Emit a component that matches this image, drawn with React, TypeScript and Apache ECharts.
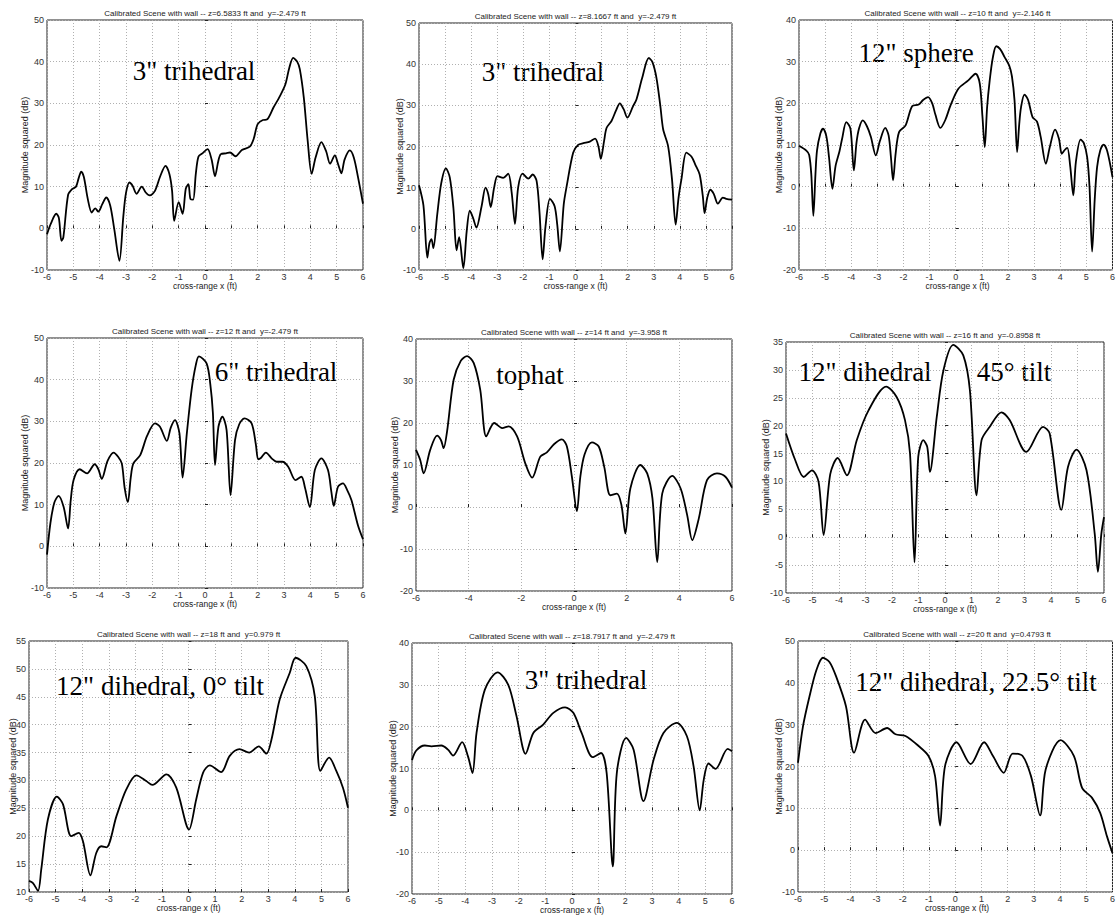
import React, { useEffect, useRef } from "react";
import * as echarts from "echarts";

// ---------- Data ----------
const p1: number[][] = [
  [-6, -1.4], [-5.85, 1.2], [-5.65, 3.5], [-5.55, 2.5], [-5.45, -3], [-5.38, -2.2], [-5.2, 8], [-5.05, 9.4],
  [-4.9, 10], [-4.8, 12], [-4.7, 13.6], [-4.6, 12.3], [-4.45, 7], [-4.3, 3.8], [-4.17, 4.8], [-4.05, 4],
  [-3.9, 5.8], [-3.75, 7.4], [-3.6, 5.5], [-3.45, 0], [-3.25, -7.8], [-3.1, 3], [-3.0, 8.5], [-2.87, 11],
  [-2.75, 10.2], [-2.6, 8.3], [-2.4, 10], [-2.25, 8.6], [-2.1, 7.9], [-1.9, 9], [-1.7, 12.5], [-1.5, 15],
  [-1.35, 13], [-1.25, 9], [-1.17, 1.8], [-1.0, 6.3], [-0.85, 3.5], [-0.73, 9.5], [-0.63, 10.6], [-0.55, 7],
  [-0.45, 6.9], [-0.35, 13], [-0.25, 17.2], [-0.1, 18], [0.1, 19], [0.25, 16.5], [0.38, 12.5], [0.5, 16],
  [0.6, 17.8], [0.8, 18], [0.95, 18.2], [1.16, 17.3], [1.4, 18.8], [1.7, 19.6], [1.85, 21.5], [2.0, 25],
  [2.2, 26], [2.35, 26.1], [2.6, 29], [2.85, 31.8], [3.05, 34.5], [3.2, 38.5], [3.35, 40.9], [3.5, 40],
  [3.6, 38.2], [3.75, 31.5], [3.9, 21], [4.05, 13.1], [4.2, 17], [4.42, 20.7], [4.6, 18.5], [4.75, 15.5],
  [4.93, 17.5], [5.05, 15.5], [5.18, 13.2], [5.3, 16.5], [5.5, 18.7], [5.65, 17], [5.81, 12.3], [6, 5.9]
];
const p2: number[][] = [
  [-6, 10.6], [-5.83, 5.7], [-5.68, -7], [-5.6, -3.5], [-5.52, -2.5], [-5.45, -4.7], [-5.3, 3.5],
  [-5.15, 11], [-4.97, 14.7], [-4.82, 12.5], [-4.68, 5], [-4.56, -5.2], [-4.46, -2], [-4.3, -9.6],
  [-4.17, -0.5], [-4.05, 4.4], [-3.92, 2.5], [-3.8, 0.3], [-3.6, 5.5], [-3.45, 10], [-3.35, 8.5],
  [-3.25, 5.3], [-3.12, 10], [-2.99, 12.8], [-2.77, 12.4], [-2.58, 13.4], [-2.45, 9], [-2.32, 1.2],
  [-2.2, 10], [-2.03, 13.4], [-1.81, 12.2], [-1.64, 13.2], [-1.49, 11.6], [-1.38, 4], [-1.26, -7.4],
  [-1.15, 0.6], [-0.98, 7.3], [-0.8, 5.5], [-0.7, 1], [-0.6, -5.5], [-0.45, 6], [-0.34, 10.3], [-0.09, 18.5],
  [0.1, 20.4], [0.3, 20.8], [0.55, 21.2], [0.75, 21.9], [0.88, 20], [0.97, 17], [1.1, 21.5], [1.19, 24.5],
  [1.38, 26.2], [1.55, 28.7], [1.7, 30.5], [1.85, 29], [1.99, 27], [2.2, 29.7], [2.34, 31.5], [2.55, 36.5],
  [2.81, 41.5], [2.95, 40.5], [3.1, 36.8], [3.25, 30], [3.36, 24.2], [3.55, 20.1], [3.7, 12], [3.84, 1],
  [3.95, 7.5], [4.06, 12], [4.25, 18.5], [4.45, 17.5], [4.6, 15.5], [4.76, 13.2], [4.88, 8], [4.95, 3.8],
  [5.05, 7.5], [5.17, 9.5], [5.3, 8.5], [5.46, 6.1], [5.65, 7.6], [5.78, 7.3], [6, 7.1]
];
const p3: number[][] = [
  [-6, 9.8], [-5.71, 8.6], [-5.61, 7.6], [-5.53, 3], [-5.45, -7], [-5.37, 3], [-5.31, 8.7], [-5.18, 12.8],
  [-5.08, 13.9], [-4.95, 12], [-4.85, 7], [-4.72, -0.5], [-4.6, 5], [-4.45, 8.5], [-4.35, 11.5],
  [-4.19, 15.5], [-4.03, 13.9], [-3.9, 3.9], [-3.8, 10.5], [-3.7, 14], [-3.56, 15.9], [-3.4, 14.5],
  [-3.25, 12], [-3.06, 7.5], [-2.9, 11], [-2.7, 14.1], [-2.57, 12.3], [-2.48, 7], [-2.4, 1.5], [-2.3, 8],
  [-2.17, 13.1], [-1.92, 14.7], [-1.67, 19.3], [-1.42, 19.7], [-1.25, 20.8], [-1.06, 21.5], [-0.9, 20],
  [-0.78, 17.3], [-0.59, 14.1], [-0.4, 16], [-0.2, 19.5], [0.1, 23.5], [0.48, 25.5], [0.76, 27.1],
  [0.92, 24.7], [1.02, 17], [1.11, 9.5], [1.2, 19], [1.3, 25.5], [1.42, 31], [1.55, 33.7], [1.7, 33],
  [1.87, 31.1], [2.05, 29], [2.15, 26.5], [2.25, 20.7], [2.35, 8.3], [2.43, 15], [2.5, 19.1], [2.63, 22.1],
  [2.77, 20.8], [2.94, 16.7], [3.11, 15.6], [3.25, 12], [3.45, 5.5], [3.6, 9.5], [3.8, 13.7], [3.95, 11.5],
  [4.06, 7.9], [4.17, 8.8], [4.27, 9.3], [4.38, 5], [4.5, -2.1], [4.6, 6], [4.78, 11.3], [4.9, 10.5],
  [5.03, 7.1], [5.12, 0], [5.22, -15.6], [5.32, -3], [5.41, 4.7], [5.53, 8.7], [5.66, 10.1], [5.8, 8.5],
  [6, 2.3]
];
const p4: number[][] = [
  [-6, -2], [-5.87, 5.6], [-5.72, 10.5], [-5.56, 12.1], [-5.37, 9.5], [-5.2, 4.3], [-5.1, 11], [-4.99, 15.9],
  [-4.76, 18.5], [-4.48, 17.5], [-4.19, 19.7], [-4.05, 18.5], [-3.92, 16.2], [-3.7, 20.5], [-3.47, 22.5],
  [-3.3, 21.5], [-3.16, 19.9], [-3.05, 14], [-2.93, 10.6], [-2.82, 16.5], [-2.72, 19.9], [-2.46, 21.9],
  [-2.2, 26.5], [-1.9, 29.5], [-1.71, 28.7], [-1.45, 25.3], [-1.3, 28.5], [-1.14, 30.3], [-0.97, 27.1],
  [-0.85, 16.5], [-0.69, 27.1], [-0.51, 37.5], [-0.35, 43.5], [-0.23, 45.6], [0.06, 43.9], [0.2, 39],
  [0.3, 32], [0.38, 19.5], [0.51, 28.7], [0.66, 31.1], [0.82, 27.9], [0.97, 12.3], [1.14, 25.5], [1.3, 29.3],
  [1.5, 30.7], [1.77, 29.5], [1.93, 24.5], [2.02, 20.9], [2.12, 21.2], [2.31, 22.5], [2.55, 21], [2.72, 20.3],
  [2.94, 20.3], [3.16, 19.1], [3.44, 15.9], [3.66, 16.7], [3.8, 14], [3.98, 9.4], [4.17, 18.3], [4.42, 21.1],
  [4.67, 18.3], [4.8, 13], [4.89, 9.7], [5.05, 14.3], [5.24, 15.1], [5.4, 13.5], [5.56, 11.1], [5.81, 5],
  [6, 1.7]
];
const p5: number[][] = [
  [-6, 13.6], [-5.84, 11.2], [-5.71, 8], [-5.46, 13.6], [-5.2, 17], [-5.05, 15.9], [-4.95, 14], [-4.82, 18],
  [-4.57, 30.3], [-4.3, 34.8], [-4.06, 35.9], [-3.81, 34.3], [-3.56, 27.9], [-3.33, 16.8], [-3.03, 20],
  [-2.73, 18.8], [-2.48, 19.2], [-2.16, 16.8], [-1.85, 10.4], [-1.59, 7], [-1.28, 12], [-1.03, 13],
  [-0.75, 15], [-0.46, 16.1], [-0.27, 14.4], [-0.08, 7.2], [0.11, -1], [0.24, 7.2], [0.4, 12.5],
  [0.68, 15.4], [0.94, 14.4], [1.15, 9.5], [1.38, 2.8], [1.63, 3.2], [1.8, 0.5], [1.95, -6.3], [2.14, 4.4],
  [2.52, 10], [2.78, 8], [2.98, 2], [3.16, -13.1], [3.35, 3.2], [3.73, 7.4], [4.05, 4.4], [4.3, -2],
  [4.49, -7.9], [4.74, -2.7], [5.05, 6.4], [5.43, 8], [5.75, 7.2], [6, 4.6]
];
const p6: number[][] = [
  [-6, 18.6], [-5.65, 13.8], [-5.33, 10.8], [-5.02, 12], [-4.77, 9.9], [-4.58, 0.4], [-4.33, 11.3],
  [-4.05, 14.2], [-3.7, 11.1], [-3.33, 17.4], [-2.89, 22.7], [-2.22, 27], [-1.82, 25.1], [-1.51, 21],
  [-1.32, 15], [-1.15, -4.5], [-1.01, 14.4], [-0.82, 17.4], [-0.67, 16.2], [-0.57, 11.7], [-0.31, 21.6],
  [-0.06, 29.9], [0.31, 34.5], [0.69, 32.6], [0.94, 26.3], [1.19, 7.5], [1.38, 17.4], [1.69, 19.8],
  [2.13, 22.4], [2.44, 21], [3.07, 15.3], [3.7, 19.8], [3.95, 18.6], [4.39, 4.9], [4.64, 12.6],
  [4.96, 15.7], [5.34, 12], [5.65, 0.6], [5.77, -6.2], [5.9, 0.6], [6, 3.6]
];
const p7: number[][] = [
  [-6, 12], [-5.85, 11.6], [-5.66, 10.2], [-5.54, 14], [-5.29, 23], [-4.95, 27.1], [-4.72, 25.7],
  [-4.41, 20], [-4.13, 20.6], [-3.97, 19.1], [-3.69, 13], [-3.47, 17], [-3.28, 18.2], [-3.09, 18],
  [-2.71, 23.6], [-2.34, 28.4], [-1.96, 30.9], [-1.59, 29.9], [-1.36, 29.2], [-0.83, 31.1], [-0.46, 28.7],
  [0.02, 21.2], [0.29, 26.6], [0.55, 31.4], [0.8, 32.7], [1.23, 31.5], [1.55, 34.4], [1.92, 35.6],
  [2.28, 35], [2.64, 36.1], [2.93, 34.8], [3.12, 37.3], [3.43, 44.5], [3.81, 49.3], [4.03, 52],
  [4.43, 50.5], [4.75, 45.1], [4.96, 31.7], [5.29, 34.1], [5.56, 31.7], [5.81, 28.7], [6, 25.1]
];
const p8: number[][] = [
  [-6, 12], [-5.84, 14.3], [-5.52, 15.5], [-5.27, 15.3], [-4.9, 15.5], [-4.65, 14.5], [-4.46, 13.1],
  [-4.12, 16.3], [-3.9, 12.9], [-3.73, 8.9], [-3.58, 18.5], [-3.27, 28.8], [-2.79, 33], [-2.39, 30],
  [-2.08, 22.5], [-1.74, 13.5], [-1.45, 18.5], [-1.08, 20.5], [-0.7, 23.3], [-0.26, 24.6], [0.05, 23.3],
  [0.36, 18.5], [0.78, 12.7], [1.09, 13.7], [1.3, 8.9], [1.53, -13.4], [1.68, 8.9], [2.03, 17.3],
  [2.31, 14.5], [2.68, 2.2], [3.06, 12.1], [3.43, 18.5], [3.93, 20.9], [4.31, 17.7], [4.56, 10.5],
  [4.79, 0], [4.94, 7.3], [5.12, 11.2], [5.38, 9.9], [5.84, 14.7], [6, 14.1]
];
const p9: number[][] = [
  [-6, 20.9], [-5.81, 29.6], [-5.56, 36.8], [-5.3, 43], [-5.05, 46], [-4.8, 45], [-4.55, 41.6],
  [-4.17, 34.4], [-3.86, 23.3], [-3.44, 31.2], [-3.04, 28], [-2.6, 29.2], [-2.28, 27.7], [-1.9, 27.3],
  [-1.4, 24.9], [-1.02, 22.5], [-0.77, 17.7], [-0.58, 5.9], [-0.39, 20.1], [0.05, 25.8], [0.59, 20.6],
  [1.1, 25.8], [1.44, 22.5], [1.85, 18.5], [2.19, 23.1], [2.57, 22.5], [2.89, 17.7], [3.24, 8.3],
  [3.45, 19.3], [4.02, 26.3], [4.53, 22.5], [4.84, 14.9], [5.22, 12.5], [5.53, 8.9], [5.79, 3.3], [6, -0.7]
];

const seriesData = [p1, p2, p3, p4, p5, p6, p7, p8, p9];
const titles = [
  "Calibrated Scene with wall -- z=6.5833 ft and  y=-2.479 ft",
  "Calibrated Scene with wall -- z=8.1667 ft and  y=-2.479 ft",
  "Calibrated Scene with wall -- z=10 ft and  y=-2.146 ft",
  "Calibrated Scene with wall -- z=12 ft and  y=-2.479 ft",
  "Calibrated Scene with wall -- z=14 ft and  y=-3.958 ft",
  "Calibrated Scene with wall -- z=16 ft and  y=-0.8958 ft",
  "Calibrated Scene with wall -- z=18 ft and  y=0.979 ft",
  "Calibrated Scene with wall -- z=18.7917 ft and  y=-2.479 ft",
  "Calibrated Scene with wall -- z=20 ft and  y=0.4793 ft",
];
const annotations = [
  ["3\" trihedral"], ["3\" trihedral"], ["12\" sphere"],
  ["6\" trihedral"], ["tophat"], ["12\" dihedral", "45° tilt"],
  ["12\" dihedral, 0° tilt"], ["3\" trihedral"], ["12\" dihedral, 22.5° tilt"],
];
const yMins = [-10, -10, -20, -10, -20, -10, 10, -20, -10];
const yMaxs = [50, 50, 40, 50, 40, 35, 55, 40, 50];
const yIntervals = [10, 10, 10, 10, 10, 5, 5, 10, 10];
const xIntervals = [1, 1, 1, 1, 2, 1, 1, 1, 1];
const xAxisName = "cross-range x (ft)";
const yAxisName = "Magnitude squared (dB)";

// ---------- Layout ----------
const grids = [
  { left: 47, top: 20, width: 316, height: 250 },
  { left: 419, top: 23, width: 313, height: 247 },
  { left: 799, top: 20, width: 317, height: 250 },
  { left: 47, top: 338, width: 316, height: 250 },
  { left: 416, top: 339, width: 316, height: 252 },
  { left: 786, top: 342, width: 318, height: 251 },
  { left: 29, top: 641, width: 319, height: 251 },
  { left: 412, top: 643, width: 320, height: 251 },
  { left: 798, top: 641, width: 318, height: 251 },
];
const yNameX = [25, 400, 779, 25, 395, 766, 13, 393, 779];
const annotPos = [
  [[194, 71]], [[543, 72]], [[916, 53]],
  [[276, 372]], [[530, 375]], [[865, 372], [1014, 372]],
  [[160, 686]], [[586, 680]], [[976, 682]],
];

export default function App() {
  const ref = useRef<HTMLDivElement>(null);
  useEffect(() => {
    if (!ref.current) return;
    const chart = echarts.init(ref.current, undefined, { renderer: "svg" });
    const sans = "Liberation Sans";
    const graphic: any[] = [];
    grids.forEach((g, i) => {
      graphic.push({
        type: "text", x: g.left + g.width / 2, y: g.top - 7,
        style: { text: titles[i], fontSize: 8, fontFamily: sans, fill: "#222", textAlign: "center", textVerticalAlign: "middle" },
      });
      graphic.push({
        type: "text", x: yNameX[i], y: g.top + g.height / 2, rotation: Math.PI / 2,
        style: { text: yAxisName, fontSize: 9, fontFamily: sans, fill: "#222", textAlign: "center", textVerticalAlign: "middle" },
      });
      graphic.push({
        type: "text", x: g.left + g.width / 2, y: g.top + g.height + 16,
        style: { text: xAxisName, fontSize: 8.5, fontFamily: sans, fill: "#222", textAlign: "center", textVerticalAlign: "middle" },
      });
      annotations[i].forEach((t, k) => {
        graphic.push({
          type: "text", x: annotPos[i][k][0], y: annotPos[i][k][1],
          style: { text: t, fontSize: 27, fontFamily: "Liberation Serif", fill: "#000", textAlign: "center", textVerticalAlign: "middle" },
        });
      });
    });
    const option: any = {
      animation: false,
      backgroundColor: "#fff",
      grid: grids.map((g) => ({ ...g, show: true, borderColor: "#222", borderWidth: 1, backgroundColor: "transparent" })),
      xAxis: grids.map((_, i) => ({
        type: "value", gridIndex: i, min: -6, max: 6, interval: xIntervals[i],
        axisLine: { show: false },
        axisTick: { show: true, inside: true, length: 3, lineStyle: { color: "#222" } },
        axisLabel: { fontSize: 9, color: "#333", fontFamily: sans, margin: 2 },
        splitLine: { show: true, lineStyle: { type: [1, 2], color: "#b0b0b0", width: 1 } },
      })),
      yAxis: grids.map((_, i) => ({
        type: "value", gridIndex: i, min: yMins[i], max: yMaxs[i], interval: yIntervals[i],
        axisLine: { show: false },
        axisTick: { show: true, inside: true, length: 3, lineStyle: { color: "#222" } },
        axisLabel: { fontSize: 9, color: "#333", fontFamily: sans, margin: 3 },
        splitLine: { show: true, lineStyle: { type: [1, 2], color: "#b0b0b0", width: 1 } },
      })),
      series: seriesData.map((d, i) => ({
        type: "line", xAxisIndex: i, yAxisIndex: i, data: d, showSymbol: false, smooth: 0.3,
        lineStyle: { color: "#000", width: 1.8 }, clip: true,
      })),
      graphic,
    };
    chart.setOption(option);
    return () => chart.dispose();
  }, []);
  return (
    <div
      ref={ref}
      style={{ position: "absolute", left: 0, top: 0, width: 1118, height: 917, background: "#fff" }}
    />
  );
}
